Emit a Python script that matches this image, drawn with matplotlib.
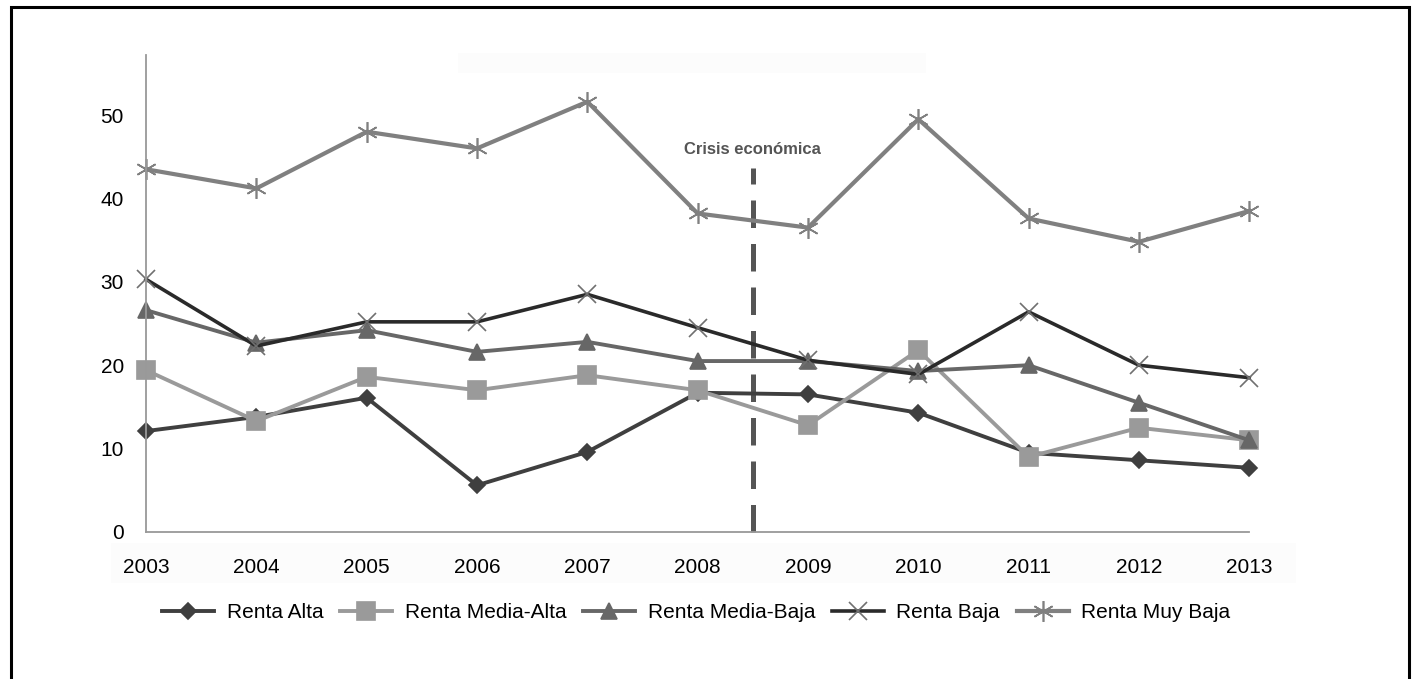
import matplotlib.pyplot as plt
from matplotlib.patches import Rectangle

plt.rcParams['font.family'] = ['Liberation Sans', 'DejaVu Sans']

years = [2003, 2004, 2005, 2006, 2007, 2008, 2009, 2010, 2011, 2012, 2013]
renta_alta = [12.1, 13.8, 16.1, 5.6, 9.6, 16.7, 16.5, 14.3, 9.5, 8.6, 7.7]
renta_media_alta = [19.4, 13.3, 18.6, 17.0, 18.8, 17.0, 12.8, 21.8, 9.0, 12.5, 11.0]
renta_media_baja = [26.6, 22.7, 24.2, 21.6, 22.8, 20.5, 20.5, 19.3, 20.0, 15.5, 11.0]
renta_baja = [30.3, 22.3, 25.2, 25.2, 28.5, 24.5, 20.6, 18.9, 26.4, 20.0, 18.5]
renta_muy_baja = [43.5, 41.2, 48.0, 46.0, 51.6, 38.2, 36.5, 49.5, 37.6, 34.8, 38.5]

crisis_year = 2008.5
crisis_top = 43.7
yticks = [0, 10, 20, 30, 40, 50]

fig = plt.figure(figsize=(14.18, 6.79), dpi=100)
ax = fig.add_axes([0.103, 0.2165, 0.778, 0.7025])
ax.set_zorder(2)
ax.patch.set_alpha(0)

# faint panels behind the title area and the year labels
fig.patches.append(Rectangle((0.078, 0.141), 0.836, 0.06, transform=fig.transFigure,
                             facecolor='#fcfcfc', edgecolor='none', zorder=0))
fig.patches.append(Rectangle((0.323, 0.892), 0.33, 0.03, transform=fig.transFigure,
                             facecolor='#fcfcfc', edgecolor='none', zorder=0))
# outer frame
fig.patches.append(Rectangle((0.0075, -0.01), 0.986, 0.999, transform=fig.transFigure,
                             facecolor='none', edgecolor='black', linewidth=2.2, zorder=10))

series = [
    ('Renta Alta', renta_alta, '#3f3f3f', 'D', 8, 2.8, '#3f3f3f'),
    ('Renta Media-Alta', renta_media_alta, '#9a9a9a', 's', 13, 2.8, '#9a9a9a'),
    ('Renta Media-Baja', renta_media_baja, '#676767', '^', 11, 2.8, '#676767'),
    ('Renta Baja', renta_baja, '#2a2a2a', 'x', 13, 2.6, '#707070'),
    ('Renta Muy Baja', renta_muy_baja, '#808080', (6, 2, 0), 15, 3.0, '#808080'),
]
for name, vals, col, mk, ms, lw, mcol in series:
    ax.plot(years, vals, color=col, lw=lw, marker=mk, markersize=ms,
            markerfacecolor=mcol, markeredgecolor=mcol, markeredgewidth=1.2,
            label=name, clip_on=False)

ax.plot([crisis_year, crisis_year], [0, crisis_top], color='#555555', lw=3.6,
        dashes=(5.5, 3.2), clip_on=False, zorder=1)
ax.text(crisis_year, crisis_top + 1.3, 'Crisis económica', ha='center', va='bottom',
        fontsize=12, fontweight='bold', color='#555555')

ax.set_xlim(2003, 2013)
ax.set_ylim(0, 57.2)
ax.set_xticks(years)
ax.set_yticks(yticks)
ax.tick_params(axis='both', length=0, labelsize=15)
ax.tick_params(axis='x', pad=19)
ax.tick_params(axis='y', pad=16)
for s in ['top', 'right']:
    ax.spines[s].set_visible(False)
for s in ['left', 'bottom']:
    ax.spines[s].set_color('#999999')
    ax.spines[s].set_linewidth(1.3)

fig.legend(loc='center', bbox_to_anchor=(0.491, 0.098), ncol=5, frameon=False,
           fontsize=15, handlelength=2.5, handletextpad=0.6, columnspacing=0.8)

fig.savefig('out.png', dpi=100, facecolor='white')
